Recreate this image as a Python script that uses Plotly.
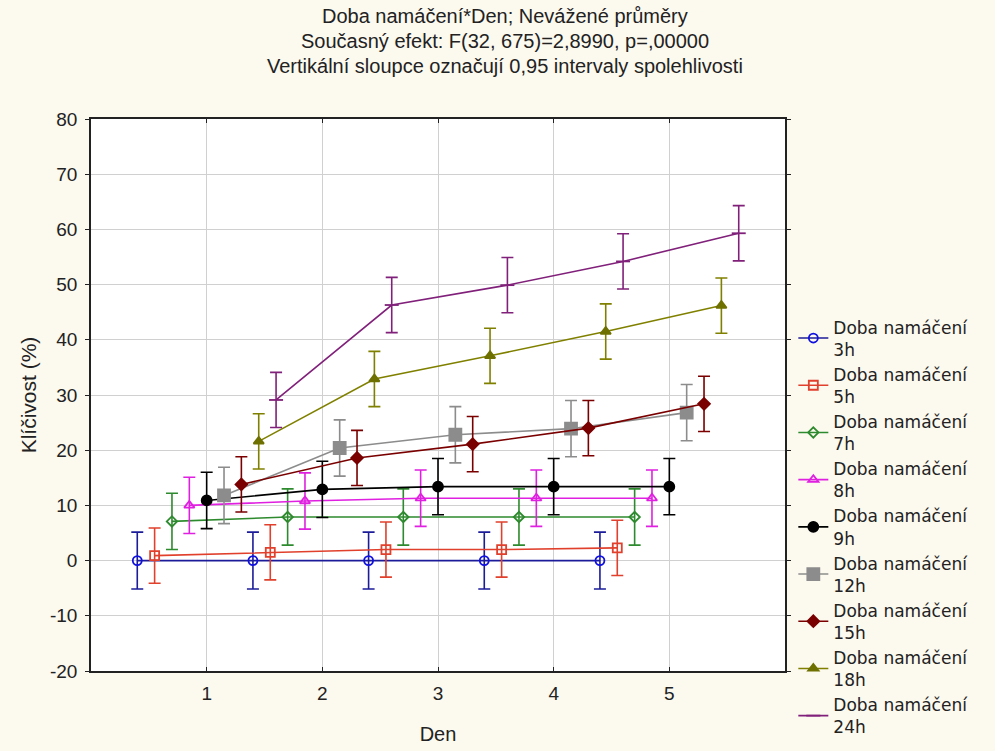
import plotly.graph_objects as go

days = [1, 2, 3, 4, 5]
series_names = ["Doba namáčení<br>3h", "Doba namáčení<br>5h", "Doba namáčení<br>7h",
                "Doba namáčení<br>8h", "Doba namáčení<br>9h", "Doba namáčení<br>12h",
                "Doba namáčení<br>15h", "Doba namáčení<br>18h", "Doba namáčení<br>24h"]
m_3h = [0.0, 0.0, 0.0, 0.0, 0.0]
m_5h = [0.9, 1.5, 2.0, 2.0, 2.3]
m_7h = [7.1, 7.9, 7.9, 7.9, 7.9]
m_8h = [10.0, 10.8, 11.3, 11.3, 11.3]
m_9h = [10.9, 12.9, 13.4, 13.4, 13.4]
m_12h = [11.8, 20.4, 22.8, 23.9, 26.8]
m_15h = [13.8, 18.6, 21.1, 24.0, 28.4]
m_18h = [21.6, 32.9, 37.1, 41.5, 46.2]
m_24h = [29.1, 46.3, 49.9, 54.2, 59.3]
ci_half = [5.15, 5.0, 5.1, 5.1, 5.1, 5.1, 5.0, 5.0, 5.0]
means = [m_3h, m_5h, m_7h, m_8h, m_9h, m_12h, m_15h, m_18h, m_24h]
y_ticks = [-20, -10, 0, 10, 20, 30, 40, 50, 60, 70, 80]
y_ticktext = ["-20", "-10", "0", "10", "20", "30", "40", "50", "60", "70", "80"]

colors = ["#1c1c9a", "#e0402c", "#2e8a2e", "#e020e0", "#000000", "#8c8c8c", "#7a0000", "#808000", "#80207a"]
marker_colors = ["#1010e0", "#e0402c", "#2e8a2e", "#e020e0", "#000000", "#8c8c8c", "#7a0000", "#6e7000", "#80207a"]
symbols = ["circle-open", "square-open", "diamond-open", "triangle-up-open", "circle",
           "square", "diamond", "triangle-up", "line-ew"]
sizes = [9, 9, 8, 9, 10, 12, 9, 9, 10]
offsets = [-0.6, -0.45, -0.3, -0.15, 0.0, 0.15, 0.3, 0.45, 0.6]

fig = go.Figure()
for i, name in enumerate(series_names):
    xs = [d + offsets[i] for d in days]
    fig.add_trace(go.Scatter(
        x=xs, y=means[i], name=name, mode="lines+markers",
        line=dict(color=colors[i], width=1.6),
        marker=dict(symbol=symbols[i], size=sizes[i], color=marker_colors[i],
                    line=dict(color=marker_colors[i], width=1.8)),
        error_y=dict(type="constant", value=ci_half[i], color=colors[i],
                     thickness=1.6, width=6),
    ))

font_family = "Liberation Sans, Arial, sans-serif"
fig.update_layout(
    width=995, height=751,
    margin=dict(l=91, r=210, t=119, b=80, autoexpand=False),
    paper_bgcolor="#fcf9ef",
    plot_bgcolor="#ffffff",
    font=dict(family=font_family, size=19, color="#222222"),
    showlegend=True,
    legend=dict(x=1.012, y=0.655, xanchor="left", yanchor="top",
                bgcolor="rgba(0,0,0,0)",
                font=dict(family="DejaVu Sans, sans-serif", size=17, color="#222222"),
                tracegroupgap=0, itemwidth=30),
    xaxis=dict(range=[0, 6], tickvals=days, ticktext=[str(d) for d in days],
               showgrid=True, gridcolor="#d0d0d0", gridwidth=1,
               showline=True, linecolor="#222222", linewidth=1.5, mirror="ticks",
               ticks="inside", ticklen=4, tickcolor="#222222",
               zeroline=False, ticklabelstandoff=4, automargin=False,
               tickfont=dict(size=19),
               title=dict(text="Den", font=dict(size=20), standoff=24)),
    yaxis=dict(range=[-20, 80], tickvals=y_ticks, ticktext=y_ticktext,
               showgrid=True, gridcolor="#d0d0d0", gridwidth=1,
               showline=True, linecolor="#222222", linewidth=1.5, mirror="ticks",
               ticks="outside", ticklen=4, tickcolor="#222222", automargin=False,
               zeroline=False, tickfont=dict(size=19), ticklabelstandoff=4,
               title=dict(text="Klíčivost (%)", font=dict(size=21), standoff=8)),
)

title_lines = ["Doba namáčení*Den; Nevážené průměry",
               "Současný efekt: F(32, 675)=2,8990, p=,00000",
               "Vertikální sloupce označují 0,95 intervaly spolehlivosti"]
title_y = [16, 41, 66]
for txt, yy in zip(title_lines, title_y):
    fig.add_annotation(text=txt, xref="paper", yref="paper",
                       x=(505 - 91) / (785 - 91), y=(671 - yy) / (671 - 119),
                       xanchor="center", yanchor="middle", showarrow=False,
                       font=dict(size=20, color="#222222"))

fig.write_html("out.html")
